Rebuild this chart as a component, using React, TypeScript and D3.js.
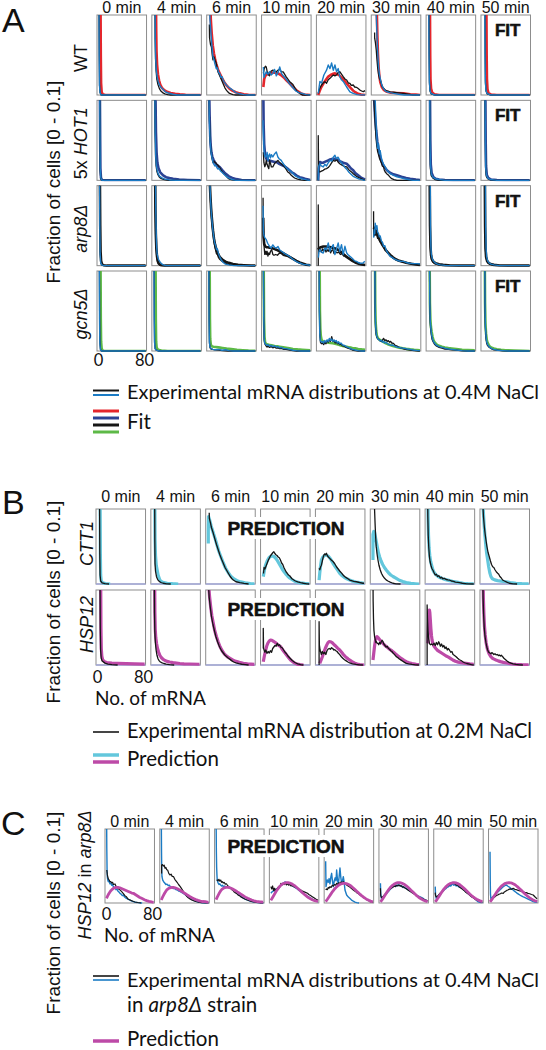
import React from 'react';
import * as d3 from 'd3';

// ---------- labels ----------
const TIMES = ['0 min', '4 min', '6 min', '10 min', '20 min', '30 min', '40 min', '50 min'];
const A_ROWS = ['WT', 'HOT1', 'arp8', 'gcn5'];
const B_ROWS = ['CTT1', 'HSP12'];
const C_ROWS = ['HSP12arp8'];
const X_TICKS = [0, 80];
const Y_TITLE = 'Fraction of cells [0 - 0.1]';

// ---------- data: [mRNA, fraction x1000, ...] per time point ----------
const A_WT_FIT = [
  [3.5,120, 4,50, 4.5,15, 5.5,4, 7,1, 12,0, 82,0],
  [4.5,120, 5,80, 5.5,55, 6.5,38, 8,26, 10,18, 12,13, 15,9, 19,6, 24,4, 30,2.5, 38,1.5, 46,0.8, 56,0.3, 66,0, 82,0],
  [3.5,120, 4.5,95, 6,78, 8,62, 10,52, 12,45, 14,39, 17,32, 20,27, 24,21, 28,16, 32,12, 37,8, 42,5.5, 48,3.5, 55,2, 62,1, 70,0.3, 78,0, 82,0],
  [0.5,10, 2,20, 4,24, 7,26, 11,27, 16,28, 21,28, 26,27, 31,25, 36,22, 41,18, 46,14.6, 52,10, 58,6, 62,4, 66,2, 72,0.5, 82,0],
  [0.5,0, 3,5, 6,10, 10,15, 14,19, 18,23, 22,25, 26,26.5, 30,27, 34,26, 38,24, 42,21, 46,18, 50,14.6, 54,11, 58,8, 61.4,5.4, 65,3.5, 70,1.5, 75,0.5, 82,0],
  [6.8,120, 7.2,100, 8,75, 9,52, 10.1,35, 11.5,24, 13,16, 16,9.6, 19,6.5, 24.6,4, 30,3, 40,2.5, 53.6,2, 65,1, 75,0.5, 82,0],
  [4,120, 4.5,50, 5,20, 6,8, 8,3, 12,1, 20,0, 82,0],
  [6.8,120, 7.3,50, 7.8,20, 8.8,7, 10.5,2.5, 15,0.5, 25,0, 82,0],
];
const A_WT_BLACK = [
  [0.8,120, 1.3,50, 1.8,12, 2.8,3, 4.5,0, 82,0],
  [2.8,120, 3.1,70, 3.8,45, 4.8,30, 6,20, 8,13, 10.5,8, 13,5, 16,3, 20,1.5, 25,0.5, 30,0, 82,0],
  [2,88, 2.3,72, 3,68, 4,63, 5.6,60, 7,50, 8.3,44, 9.5,48, 11,46, 12.5,42, 14,40, 15.5,34, 17,29, 20,24, 23,19, 26,14, 29,9, 31.6,6, 34,4, 37,2, 43,0.5, 48,0, 82,0],
  [0.5,27, 2,33, 4,36, 5.6,35, 8,26, 11.3,24, 14,30, 17,31, 20,30, 23,29, 26,31, 29,32, 32,29, 35,29, 40,23, 46,17, 52,13, 56,8, 60,4, 64,2, 68,0, 82,0],
  [0.6,2, 3,8, 6.4,12.5, 9,15, 12,16.7, 15,14.6, 18,19, 21,20.8, 24,23, 26.7,25, 29.6,24, 32.5,25, 35,28, 38,29.2, 41,26, 44,22.9, 47,20, 50,18.75, 53,15, 55.7,14.6, 58,12, 61.4,12.5, 64,10, 67,9.6, 70,8, 73,6.25, 76,5, 79,4.2, 82,5.4],
  [3.2,78, 3.3,71, 4.5,66, 6.1,56, 7.2,45, 8.4,35, 10,26, 11.9,20, 13.5,18, 15,14, 16,11, 18,9, 21.7,6, 25,5, 30.4,4, 36,3.5, 42,3, 53.6,2, 62,1, 70,0, 82,0],
  [2.2,120, 2.7,50, 3.2,15, 4.2,5, 6,1.5, 12,0, 82,0],
  [4.2,120, 4.7,50, 5.2,15, 6.2,5, 8,1.5, 14,0, 82,0],
];
const A_WT_BLUE = [
  [0.7,120, 1.2,50, 1.7,12, 2.7,3, 4.5,0, 82,0],
  [3,120, 3.3,70, 4,45, 5,32, 6.5,23, 8.4,17, 11,12, 14,9, 17,7, 21,4, 26,2.5, 34,1, 42,0, 82,0],
  [2.5,120, 3,95, 4,85, 5.5,70, 7,57, 8.3,48, 10,44, 12,38, 14,33, 16,34, 18,28, 20,27, 22,22, 24,23, 26,19, 28,16, 31.6,12.5, 35,10, 39,8, 43,6, 48,3, 55,1.5, 62,0.5, 68,0, 82,0],
  [0.5,35, 1.5,22, 3,25, 5.6,29, 8,26, 11.3,29, 14,25, 17,27, 20,32, 23,24, 26,28, 29,35, 32,27, 35,24, 40,20, 46,14, 52,9, 57,5, 62,3, 68,2, 75,0.5, 82,0],
  [0.6,2, 3.5,17, 6.4,15, 10.4,25, 15,31, 18,37.5, 21,33, 23.8,40, 26.7,31, 29.6,37.5, 32.5,29, 35.3,33, 38,23, 41,19, 44,17, 50,10, 55.7,4, 61.4,2, 68,0.5, 82,0],
  [5.8,120, 6.1,100, 7.2,77, 8.4,56, 10.1,35, 11.5,26, 13.5,19, 16,12, 18.8,8, 22,5, 24.6,4, 30,3, 36,2, 45,1, 55,0, 82,0],
  [2,120, 2.5,50, 3,18, 4,6, 6,2, 12,0, 82,0],
  [4,120, 4.5,50, 5,18, 6,6, 8,2, 14,0, 82,0],
];

const A_HOT1_FIT = [
  [2.3,120, 2.9,50, 3.3,15, 4.3,3, 6,0.5, 10,0, 82,0],
  [3.5,120, 4.5,60, 5.6,35, 7,22, 9,15, 12,10, 17,6.25, 22,4, 28,2.8, 34.5,2, 45,1, 60,0.5, 82,0],
  [1.5,120, 2.5,80, 3.5,55, 4.5,42, 5.6,35, 7,30, 9,26, 11.3,23, 14,20, 17,18, 20,16.5, 24,13, 28,10, 31.6,7.5, 36,5, 42,3, 49,1.5, 58,0.5, 70,0, 82,0],
  [0.3,120, 1,70, 2,45, 3.5,32, 5.6,27, 8,25, 11.3,25, 14,24, 17,23.5, 20,23, 23,22.9, 27,21, 31.6,19.5, 37.4,17.5, 43,14.5, 46,12.5, 50,10, 54.8,8, 57.7,6.25, 63.5,4, 69,2.9, 75,1.5, 82,0.5],
  [0.5,0, 1.5,15, 3.5,22.9, 6,22, 9,22, 12,23, 15,24, 18,25, 21,26, 24,26.5, 27,27, 29.6,27, 33,26, 38,24, 44,22, 50,20.8, 55,17, 58,14.5, 61.4,12.5, 65,9, 70,6.25, 75,3.5, 79,2, 82,1],
  [2,120, 2.5,100, 4,80, 6,62, 8,48, 10,39, 13,29, 16,22, 19,18, 24.6,12.5, 30,9.5, 36,7.5, 42,6.25, 50,4.5, 58,3, 65,2, 75,1, 82,0.5],
  [4,120, 4.7,50, 5.5,20, 7,9, 10,4, 14,2, 20,1, 30,0.5, 45,0, 82,0],
  [5,120, 5.6,50, 6.2,18, 7.5,7, 10,3, 15,1, 25,0.3, 40,0, 82,0],
];
const A_HOT1_BLACK = [
  [2,120, 2.5,50, 3,12, 4,2, 6,0, 82,0],
  [2.3,120, 3,60, 3.8,30, 4.8,18, 6.2,11, 8,7, 10.5,4, 14,2, 19,1, 26,0, 82,0],
  [1.3,120, 2.2,75, 3.5,50, 4.5,40, 5.6,33, 7,26, 8.5,22, 10,24, 11.3,23, 13,22, 15,20, 17,19, 20,16, 23,12, 26,9, 29,7, 31.6,5, 34,3, 37,1.5, 42,0.5, 48,0, 82,0],
  [0.5,35, 1.5,22, 3,17, 4.5,20, 5.6,25, 7,20, 8.5,17, 10,14.6, 11.3,25, 13,21, 14.5,16.7, 17,16.7, 20,21, 23,22.9, 25.8,25, 28,23, 31.6,20.8, 34,19, 37.4,16.7, 40,14, 43,10.4, 46,9, 49,6.25, 52,4.5, 54.8,2.9, 60,1.5, 66,0.5, 72,0, 82,0],
  [0.6,0, 0.6,56, 1.2,12.5, 3.5,10.4, 6,11.5, 9.3,12.5, 12,14, 15,14.6, 18,16, 21,18.75, 24,22, 26.7,25, 29.6,24, 32.5,25.8, 35,23, 38,20.8, 42,19, 46,17.5, 50,16.7, 54,13, 58.5,10.4, 62,8, 67,5, 72,3, 75.7,2, 79,1, 82,1],
  [1.4,120, 2.5,95, 4.3,70, 5.8,52, 7.2,41.7, 8.5,36, 10.1,32, 11.5,28, 13,25, 15,22, 16.5,18, 18.8,16.7, 20,13, 21.7,10.4, 24.6,8, 27.5,6.25, 30,4, 33,2, 37,1, 42,0, 82,0],
  [3.4,120, 4,50, 4.8,15, 6.2,6, 9,3, 13,1, 20,0, 82,0],
  [4.5,120, 5,50, 5.5,14, 6.7,5, 9,2, 14,0.5, 25,0, 82,0],
];
const A_HOT1_BLUE = [
  [2,120, 2.6,50, 3,15, 4,3, 6,0, 82,0],
  [2.5,120, 3.2,60, 4,32, 5,20, 6.5,13, 8.5,8, 11,5, 15,3, 20,1.5, 28,0.5, 40,0, 82,0],
  [1.2,120, 2,75, 3.2,50, 4.5,38, 5.6,32, 7,27, 8.5,22, 10,20, 11.5,18, 13,19, 15,16, 17,14, 19,15, 21,12, 24,10, 27,8, 30,6, 33,4, 37,2.5, 42,1, 48,0, 82,0],
  [0,75, 0.5,60, 1.5,40, 2.5,32, 4,29, 5.6,30, 7,35, 8.5,25, 10,31, 11.3,33, 13,28, 14.5,32, 17,29.2, 20,33, 23,35.4, 25.8,29.2, 28,27, 31.6,25, 34,22, 37.4,18.75, 40,16, 43,14, 46,12.5, 50,10, 54.8,6.25, 60,4, 63.5,2.9, 70,1.5, 76,0.5, 82,0],
  [0.5,0, 1.5,18, 3.5,21, 6,18, 9.3,16.7, 12,20, 15,18, 18,22, 21,25, 24,24, 26.7,29, 29.6,31.25, 32,27, 35,29, 38,25, 41,22, 44,19, 47,16, 50,14, 54,10, 58.5,7, 61.4,5, 67,3, 72,1.5, 78,0.5, 82,0],
  [3,120, 4.3,100, 5.5,75, 7.2,50, 8.5,40, 10.1,45.8, 11.5,33, 13,37, 14.5,30, 16,25, 18.8,20, 21.7,16.7, 24.6,13, 27.5,10.4, 31,8, 36,6.25, 42,4.5, 47.7,3.3, 55,2, 62,1, 70,0, 82,0],
  [3.5,120, 4.2,50, 5,18, 6.5,8, 9,4, 13,2, 20,1, 30,0, 82,0],
  [4.5,120, 5.1,50, 5.7,15, 7,6, 9.5,2.5, 14,1, 25,0, 82,0],
];

const A_ARP8_FIT = [
  [2.3,120, 3,50, 3.6,18, 4.5,6, 6,2, 9,0.5, 14,0, 82,0],
  [3,120, 3.6,70, 4.3,40, 5.2,22, 6.3,12, 7.5,6, 9,3, 11,1.5, 14,0.5, 20,0, 82,0],
  [2.3,120, 3,100, 4,85, 5,72, 6.5,58, 8.3,44, 10,34, 12,26, 14.3,20, 17,15, 20,11, 25.7,7, 30,5, 36,3.5, 43,2, 52,1, 62,0.5, 75,0, 82,0],
  [0.3,60, 1,35, 2,27, 4,24, 6,23, 8.5,23, 11.3,22.5, 15,22, 19,21, 23,20, 28.7,18, 34,16, 40,13.5, 46,11, 52,8.5, 58,6, 63.5,4, 70,2.5, 75,1.25, 82,0.5],
  [0.5,20, 2,22, 5,23, 9.3,24, 14,24, 18,23.5, 23,23, 27,22, 32,21, 36,19.5, 40,17, 44,14.5, 48,12, 52,10, 55.7,8, 60,6, 65,4, 70,2.5, 76,1.5, 82,0.8],
  [1,48, 2.5,47, 4.3,45, 7,41, 10,36, 13,31, 16,27, 19.5,23, 23,19, 27,16, 30.4,13.5, 35,10.5, 40,8, 46,6, 53.6,4.5, 60,3.3, 67,2.3, 75,1.5, 82,1],
  [3.5,120, 4.2,50, 5,24, 6,13, 7.5,8, 10,5, 14,3, 20,1.8, 27,1, 40,0.3, 55,0, 82,0],
  [4,120, 4.6,50, 5.3,22, 6.3,11, 8,6, 10.5,3.5, 14,2, 20,1, 30,0.3, 45,0, 82,0],
];
const A_ARP8_BLACK = [
  [2,120, 2.6,50, 3.2,15, 4.2,4, 6,1, 10,0, 82,0],
  [2.8,120, 3.4,70, 4,40, 5,20, 6,10, 7.5,5, 9.5,2, 12,0.5, 16,0, 82,0],
  [2.2,120, 2.9,100, 3.9,82, 5,67, 6.5,52, 8.3,41, 10,30, 12,22, 14.3,15, 16,14, 18,10, 20,8, 23,6, 25.7,5, 30,3, 36,1.5, 43,0.5, 50,0, 82,0],
  [0,85, 0.3,60, 0.7,37, 2,22, 3,14, 4.5,18, 5.6,14, 7,18, 8.5,12, 10,16, 11.3,14, 13,18, 15,20, 17,14, 19,13, 22,14, 25,13, 28.7,15.8, 32,15, 35,13, 40,12, 46,11.6, 52,9, 58,6, 63.5,3.3, 70,2, 75,1.25, 82,0.5],
  [0.6,0, 0.6,76, 1.1,24.2, 2.5,18, 4,20, 6,17, 8,21, 10,18, 12,22, 14,17, 16,20, 18,18, 20,21, 22,16, 24,19, 26,20, 28,15, 30,18, 33,16, 36,17, 39,14, 42,15, 45,12, 48,13, 51,10, 55.7,9, 60,7, 64,5, 68,4, 72,3, 76,2, 82,1],
  [1.4,68, 1.6,36.7, 3,42, 4.3,38, 5.5,44, 7,38, 8.5,34, 10,36, 12,30, 14,31, 16,26, 18,25, 20,22, 22,19, 24.6,18, 27,15, 30.4,12, 33,11, 36,9, 40,7.5, 45,6, 50,5, 55,4, 60,3, 66,2.5, 72,2, 77,1.5, 82,1],
  [3.5,120, 4,50, 4.7,22, 5.6,12, 7,7, 9,4.5, 12,2.5, 16,1.5, 22,0.5, 30,0, 82,0],
  [4,120, 4.5,50, 5.2,20, 6.2,10, 8,5, 10.5,3, 14,1.5, 20,0.5, 30,0, 82,0],
];
const A_ARP8_BLUE = [
  [1.8,120, 2.3,50, 2.8,15, 3.8,4, 5.5,1, 9,0, 82,0],
  [3.5,120, 4.2,70, 5,40, 5.6,25, 6.5,15, 8,10, 9.5,7, 11.3,5, 14,2.5, 17,1, 22,0, 82,0],
  [2.4,120, 3.1,100, 4.1,82, 5.2,68, 6.7,55, 8.5,42, 10,34, 11.5,28, 13,25, 14.5,20, 16,21, 18,15, 20,11, 23,7, 26,4, 30,2, 36,1, 44,0, 82,0],
  [0,75, 0.5,45, 1.5,38, 3,35, 5.6,32.5, 8,28, 11.3,24, 14,22, 17,26, 20,23, 23,22, 26,24, 28.7,20, 32,18, 36,16, 40,14, 46,11.6, 52,8, 58,5, 63.5,3.3, 70,1.5, 75,1.25, 82,0.5],
  [0.8,10, 2,18, 3.5,20, 6,17, 9.3,15.8, 12,22, 15,20, 18,28.3, 21,17.9, 23,22, 26.7,26.25, 29.6,13.75, 32,20, 35.3,28.3, 38,17.9, 41,26.25, 44,13.75, 47,24.2, 50,16, 52,14, 55.7,11.6, 60,9, 64,6, 67,5.4, 70,4, 74,3, 78.6,3.3, 81.5,5.4],
  [1.5,35, 2.5,45, 3.5,40, 4.3,53, 5.5,46, 7.2,50, 8.5,42, 10.1,40, 11.5,36, 13,37, 15,31, 17,29, 19,24, 21,25, 23,20, 26,16, 30.4,11.6, 34,10, 38,8, 43,6.5, 48,5.5, 53.6,5.4, 58,4, 64,3, 70,2.5, 77,2.5, 82,2],
  [4.5,120, 5,50, 5.6,25, 6.5,14, 8,9, 10,6, 13,3.5, 17,2, 22,1, 30,0.3, 40,0, 82,0],
  [5,120, 5.6,50, 6.3,22, 7.3,11, 9,6, 11.5,3.5, 15,2, 20,1, 30,0, 82,0],
];

const A_GCN5_FIT = [
  [3.5,120, 4,40, 4.5,12, 5.5,3, 7,0.5, 10,0, 82,0],
  [3.8,120, 4.3,40, 4.8,12, 5.8,4, 8,1.5, 14,0.5, 25,0, 82,0],
  [2.5,120, 3,40, 3.5,15, 4.5,8, 6,6, 9,5.4, 13,5, 18,4.5, 25,3.8, 32,3, 40,2.3, 50,1.5, 60,1, 70,0.5, 82,0.3],
  [1,120, 1.7,40, 2.5,18, 3.5,11, 5,9, 8,8, 11.3,7.5, 15,7, 20,6.3, 25,5.8, 28.7,5.4, 35,4.6, 40,4, 46,3.3, 52,2.6, 60,2, 68,1.6, 75,1.25, 82,1],
  [3,120, 3.5,50, 4.2,28, 5,19, 6.4,13.75, 8,12.5, 10,11.7, 14,11, 18,10.5, 22,10, 26,9.6, 30,9, 35,8, 40,7, 45,6, 50,5.4, 55,4.5, 60,3.8, 65,3.3, 70,2.6, 76,2, 82,1.5],
  [3.8,120, 4.3,60, 5,36, 6,25, 7.2,19, 9,16, 11,14.5, 14,13, 18,11.5, 22,10, 26,8.5, 30,7.5, 35,6.2, 40,5.2, 46,4.2, 52,3.4, 58,2.7, 65,2, 72,1.5, 82,1],
  [3.5,120, 4,60, 4.8,40, 5.8,30, 7,24, 8.5,18, 10,14, 12,11, 14,9.5, 16,8, 20,6.5, 25,5.4, 30,4.5, 36,3.6, 42,3, 50,2.3, 60,1.5, 70,1.1, 82,0.8],
  [4,120, 4.5,60, 5.2,35, 6.2,22, 7.5,14, 9,10, 11,7.5, 13,5.4, 16,4, 20,3, 25,2.2, 32,1.5, 40,1, 55,0.5, 70,0.2, 82,0],
];
const A_GCN5_BLACK = [
  [1.5,120, 2,40, 2.5,10, 3.5,2, 5,0, 82,0],
  [1.2,120, 1.7,40, 2.2,10, 3.2,3, 5,1, 10,0, 82,0],
  [1.2,120, 1.7,40, 2.2,10, 3.2,4, 5,2.5, 8,2, 12,1.5, 18,1, 25,0.5, 35,0, 82,0],
  [0.5,120, 1.2,40, 2,14, 3,9, 5,6.5, 7,5, 9,6, 11.3,4.5, 14,5.5, 17,4, 20,5, 23,3.5, 26,4, 29,3, 32,3.2, 36,2, 40,2, 46,1, 52,0.5, 58,0, 82,0],
  [2.2,120, 2.7,50, 3.4,20, 4.4,11, 6,9, 8,10, 10,8, 12,11, 14,9, 16,13, 18,11, 20,14, 22,12, 24,17.9, 26,12, 28,13, 30,10, 32,11.5, 34,9, 36,10, 38,8, 40,8.5, 43,6.5, 46,6, 49,4.5, 52,3.5, 56,2.5, 60,1.25, 65,0.5, 70,0, 82,0],
  [3.5,120, 4,55, 4.8,30, 5.8,21, 7.2,17, 9,15, 11,14, 13,13, 15,12, 17,14, 18.8,15.8, 21,13, 23,14, 25,12, 27,13, 29,11, 31,12, 33,10, 36,9.6, 39,7, 42,6, 46,4.5, 50,3.5, 55,2.5, 60,1.8, 65,1.2, 72,0.5, 80,0, 82,0],
  [3.2,120, 3.7,60, 4.5,36, 5.5,26, 6.7,19, 8,14, 10,11, 12,8.5, 14,7, 16,6, 20,4.5, 25,3.5, 30,2.5, 36,2, 42,1.5, 50,1, 60,0.3, 70,0, 82,0],
  [3.8,120, 4.3,55, 5,30, 6,17, 7.2,10, 8.8,7, 11,5, 13,4, 16,2.5, 20,1.5, 26,1, 35,0.3, 45,0, 82,0],
];
const A_GCN5_BLUE = [
  [1.3,120, 1.8,40, 2.3,10, 3.3,2, 5,0, 82,0],
  [1,120, 1.5,40, 2,12, 3,3, 5,1, 10,0, 82,0],
  [1,120, 1.5,40, 2,12, 3,5, 5,3, 8,2, 12,1.5, 18,2, 24,1, 30,1.5, 36,0.5, 44,0, 82,0],
  [0.5,120, 1.2,40, 2,15, 3,9.6, 5,8, 7,7, 9,8, 11.3,6, 14,7, 17,5.5, 20,6.5, 23,5, 26,5.5, 29,4, 32,4.5, 36,3, 40,3, 46,2, 52,1, 58,0.5, 66,0, 82,0],
  [2,120, 2.5,50, 3.2,22, 4.2,13, 6,11, 8,12, 10,10, 12,13, 14,11, 16,14, 18,12, 20,15.8, 22,13, 24,15, 26,12, 28,14, 30,11.7, 32,13, 34,10, 36,11.5, 38,9, 40,10, 43,7.5, 46,7, 49,5.4, 52,4.5, 56,3.3, 60,2, 65,1.25, 70,0.5, 76,0, 82,0],
  [3.5,120, 4,60, 4.8,34, 5.8,23, 7.2,17.9, 9,15, 11,14, 13,12.5, 15,13.5, 17,11, 19,12, 21,10, 23,11, 26,9, 29,8, 32,7, 35,7.5, 38,6, 42,5, 46,4.5, 50,3.8, 55,3.3, 60,2.5, 65,2, 70,1.3, 76,0.8, 82,0.5],
  [3.3,120, 3.8,60, 4.6,38, 5.6,28, 6.8,21, 8.2,16, 10,12, 12,10, 14,8, 16,7, 20,5.5, 25,4.5, 30,3.5, 36,2.5, 42,2, 50,1.25, 60,0.5, 70,0, 82,0],
  [4,120, 4.5,55, 5.2,30, 6.2,18, 7.5,11, 9,8, 11,6, 13,4.5, 16,3, 20,2, 26,1, 35,0.5, 45,0, 82,0],
];

const B_CTT1_PRED = [
  [4.5,120, 5,40, 5.5,12, 6.5,4, 9,1.5, 14,0.5, 22,0],
  [4.2,120, 4.7,60, 5.5,38, 6.8,25, 8.4,18.7, 10,12, 13,5.3, 16,3, 20,1.8, 26,1, 35,0.4, 45,0],
  [1.9,54, 1.9,72, 2.3,90, 4,86, 7,77, 10.6,68, 14,60, 17,52, 20,44, 24,36, 28,28, 32,21, 36.7,15, 41,10.5, 46,7, 52,4.5, 58,2.8, 66,1.5, 75,0.6, 82,0.2],
  [2.1,9.8, 4,18, 6,25, 9,31, 12,35, 15,37, 17.7,37.3, 20,37, 23,35, 26,32, 29,28, 32,24, 35,20, 38,16.5, 41,13.5, 44,11, 48,8, 52,6, 56,4, 60,2.8, 66,1.6, 74,0.8, 82,0.3],
  [3.8,5.3, 5,15, 6.5,25, 7.8,32, 10,35.5, 13,38, 16.5,38.7, 20,37, 24,33, 28,27.6, 32,23, 36,18.5, 39.7,14.3, 44,11, 48,8.5, 52,7, 57,5.3, 62,3.8, 68,2.6, 74.4,1.8, 82,1],
  [2.1,32, 2.1,66, 3.5,70, 4.9,69, 7,60, 9.5,50, 11.5,42, 13.6,36.4, 16,31, 19,26, 22,22, 25.2,18.7, 29,15, 33,12, 37,10, 42.6,7.6, 48,5, 54,3.2, 60,1.8, 68,0.8, 76,0.3, 82,0],
  [2.2,120, 2.6,90, 3.3,65, 4.3,48, 5.5,38, 7,30, 9,24, 10.8,19, 13,15.5, 16,12.5, 20,10, 25,8, 30,6.5, 35,5.5, 40,4.5, 45,3.7, 50,3, 57,1.8, 64,1, 72,0.5, 82,0.2],
  [2.6,120, 3.1,98.7, 4.5,80, 6,65, 7.5,52, 9,41, 10.8,32, 12.5,23, 14.5,15, 16.5,9.8, 19,7, 23,5.5, 28,4.5, 34,3.8, 42.6,3, 50,2, 60,1, 70,0.5, 82,0.2],
];
const B_CTT1_BLACK = [
  [3.5,120, 4,40, 4.5,12, 5.5,4, 8,1.5, 13,0.5, 20,0],
  [4,120, 4.3,60, 4.6,27.5, 5.5,17, 7.2,9.8, 9.5,5.5, 12,3.5, 15,2, 18.8,1, 25,0.3, 32,0],
  [3.5,95, 3.7,87.6, 5.5,82, 7.5,75, 10.6,67.6, 13,61, 16,53, 19.3,45.3, 22,39, 25,33, 28,27.6, 31,22, 34,18, 36.7,14.3, 40,10, 43,7, 45.4,5.3, 50,3, 57,1.8, 64,0.8, 72,0],
  [2.5,14, 3.5,22, 5,20, 7,24, 9,28, 11,32, 13,35, 15,38, 17,40, 19,42, 20.5,43, 22,41, 24,39, 26,38, 28,36, 30,35, 32,32, 34,28, 36,26, 38,22, 40,19, 42,16, 43.8,14.3, 46,12, 48,11, 50,9, 52,7, 55.3,5.3, 58,4, 62,2.8, 67,1.8, 72,1, 78,0.3, 82,0],
  [3.8,21, 5,19, 6.5,23, 7.8,25, 9.5,31, 11,36, 12.5,39, 13.6,40, 15,39, 16.5,41, 18,38, 20,36, 22.3,34.2, 25,32, 28,30, 31,27, 34,23, 37,20, 40,17, 43,14.5, 45.6,12, 48,10, 51,8.5, 54,7, 57,5.3, 60,4.5, 64,3.5, 68.7,3, 74,2, 80,1, 82,1],
  [4.5,120, 4.9,98.7, 5.8,80, 6.8,62, 7.8,49.8, 9.2,40, 10.8,32, 12.5,25, 14.8,18.7, 17,14, 19.5,10.5, 22.3,7.6, 25,5.5, 28,4, 32,2.5, 36.8,1, 42,0.3, 50,0],
  [1.8,120, 2.1,90, 2.8,65, 3.8,48, 4.9,36.4, 6,30, 7.5,25, 9,21, 10.8,18.7, 13,15, 15,12, 17,13, 19,10, 21,11, 22.3,9.8, 24,8, 26,9, 28,7, 31,7.5, 34,6, 37,5.5, 39.7,5.3, 43,4, 47,3.5, 50,2.5, 54,2.2, 57,1.8, 62,1, 70,0.3, 82,0],
  [1.8,120, 2.1,110, 3.5,90, 5,76, 6.5,66, 7.8,58.7, 9.5,50, 11.5,42, 13.6,36.4, 15.5,31, 17.5,26, 19.5,23, 21.5,22, 23.5,19, 26,16, 28.2,14.3, 30,13, 32,10, 34.5,8, 36.9,5.3, 40,4, 44,2.5, 48.4,1, 55,0.3, 62,0],
];
const B_HSP12_PRED = [
  [5.5,120, 6,50, 6.6,22, 7.5,12, 9,7, 12,4.5, 16,3.3, 25,2.6, 35,2.2, 50,1.8, 65,1.5, 82,1.2],
  [4,120, 4.4,70, 5,48, 6,36, 7.5,28, 9,22, 11,17, 13,13, 15.5,10, 18.8,7.5, 22,6, 26,4.8, 30,4, 36,3.2, 42,2.6, 47.8,2, 55,1.6, 65,1.3, 82,1],
  [1.9,120, 2.5,108, 4,92, 6,78, 8,66, 10.6,55.6, 13,46, 16,38, 19,31, 22.3,24.4, 26,19, 30,14.5, 35,11, 39.7,8.9, 45,6.5, 50,4.8, 56,3.5, 62.8,2.2, 70,1.4, 82,0.8],
  [2.1,4.4, 4,12, 6,19, 8,25, 10,29, 12.5,32, 14.8,33.3, 17,33, 20,31.5, 23,30, 26,28, 29,26, 32.2,24.4, 36,20, 40,16, 44,12, 47,9, 49.6,6.7, 53,4.5, 57,2.5, 61,1.2, 66,0.5, 72,0],
  [4.9,2.2, 7,6, 9.5,11, 12,17, 14.5,22, 17,26.5, 19,29.5, 21.2,31.1, 24,31, 27,29.5, 30,27, 33,25, 36,22.5, 39.7,20, 43,17, 46,14, 49,11.5, 52,9.5, 54.5,8, 57,6.7, 61,4.5, 65,2.8, 70,1.3, 74.4,0.5, 82,0],
  [2.1,6.7, 3.5,16, 5,26, 6.5,33, 8,37, 9,37.8, 10.5,37, 12.5,35, 15,32.5, 17.5,30.5, 19.5,28.9, 23,26, 27,23.5, 31,21, 34,19.5, 36.9,17.8, 41,15, 45,12.5, 49,10, 53,8, 56,6.3, 60,4.4, 65,3, 70,2, 77.4,1, 82,0.6],
  [2.1,28.9, 2.8,45, 3.5,60, 4.2,70, 4.9,73.3, 5.6,70, 6.5,60, 7.5,48, 8.5,39, 9.5,33, 10.8,28.9, 13,25, 16,22, 19,19.5, 22.3,17.8, 26,16, 30,14, 34,12, 38,10.5, 42,8.5, 45.6,6.7, 50,5, 55,3.8, 60,3, 68.7,2.2, 75,1.5, 82,1],
  [2.8,120, 3.3,90, 4.2,68, 5.2,52, 6.5,40, 8,30, 9.5,24, 10.8,20, 13,15.5, 16,11.5, 19,9, 22,7.8, 25.2,6.7, 29,5.5, 33,4.5, 38,3.5, 44,2.6, 50,1.8, 54.2,1.3, 60,0.8, 70,0.4, 82,0.2],
];
const B_HSP12_BLACK = [
  [4.3,120, 4.8,50, 5.4,20, 6.5,9, 8,5.5, 10,4.4, 13,2.5, 18,1.3, 25,0.5, 35,0],
  [3.3,120, 3.7,70, 4.3,45, 5.2,30, 6.5,20, 8,13, 10,8, 12,5.5, 14,4, 17,2.8, 20,2, 24,1.2, 30,0.5, 38,0],
  [1.7,120, 2.3,105, 3.5,90, 5.5,76, 7.5,64, 10,54, 12.5,46, 15,38, 18,31, 20.5,26, 22.3,23, 25,19, 28,16, 31,13, 34,11, 37,9, 39.7,7.5, 43,5.5, 46,4, 50,2.8, 55,1.8, 60,1, 66,0.5, 72,0],
  [2.1,22, 2.1,48.9, 2.6,22.2, 3.5,20, 4.9,17, 6.5,20, 8.5,15.6, 10.5,18, 12.5,16, 14.5,19, 16.5,17, 18.5,22, 20.5,24, 22.5,26, 24.5,25, 26.4,28.9, 28.5,26, 30.5,27, 32.5,24, 35,23, 37.5,20, 40,17, 42.5,15, 45,12, 47.5,10, 50,8, 52.5,6, 55.3,4.4, 58,3, 62,1.5, 67,0.5, 72,0],
  [3.8,0, 3.8,57.8, 4.3,26.7, 5.5,20, 7.8,14, 9.5,18, 11.5,15, 13.5,17, 15.5,14, 17.5,19, 19.5,21.3, 21.5,22, 23.5,21, 25.5,23, 27.5,22, 29.5,20, 31,20.4, 33,19, 35,18, 37,16, 39.7,13.8, 42.5,11, 45,9, 48,7, 51,5.5, 54,4, 57,2.7, 62,1.5, 68,0.8, 74,0.3, 80,0],
  [2.1,120, 2.4,85, 3,62, 3.8,46, 4.9,37.8, 6,34, 7,30, 8,31, 9.5,29, 10.8,28.9, 12,27, 13.5,30, 15,28, 16.5,31, 18,33, 19.5,31.1, 21,28, 23,26, 25,24, 27,25, 29,22, 31,21, 33,19, 35,18, 37,16, 39,14.5, 42.6,11.1, 45,10, 48,8, 51,6.5, 54,5, 57,3.5, 60,2.2, 64,1.5, 70,0.8, 76,0.3, 82,0],
  [0.9,0, 0.9,80, 1.5,62, 2.5,45, 3.5,35, 4.9,28.9, 6.5,27, 8.5,28, 10.8,26.7, 13,29, 15,26, 17,30, 19,27, 21,31, 22.3,28.9, 24,25, 26,28, 28,24, 30,26, 32,22, 33.9,24, 36,20, 37.5,22, 39.7,20, 42,17, 44,18, 46,14, 48,13, 51.3,11.1, 54,9, 57,7, 60,6, 62.8,4.4, 66,3, 70,2, 74.4,1.3, 78,0.5, 82,0],
  [2.3,120, 2.8,90, 3.7,68, 4.8,50, 6.2,38, 7.8,30, 9.3,24, 10.8,20, 12.5,17, 14.5,16, 16.5,15, 18,16.5, 19.5,15.6, 21.5,14, 23.5,15, 25.5,13.5, 27.5,14, 29.5,12.5, 31,13.3, 33,12, 34.5,13, 36.9,11.1, 39,9, 42,7, 45,5, 48,3.5, 51,2.5, 55,1.5, 60,0.8, 66,0.3, 72,0],
];

const C_BLUE = [
  [0.2,120, 0.5,75, 1,45, 1.4,35.6, 2.2,31, 3.2,28.8, 4.5,30, 6,26, 7.5,27, 9,24, 10.5,25, 11.9,22.1, 13.5,20, 15,21, 16.5,18, 18,19, 20,16, 21.5,15, 23.5,13.1, 25.5,12, 27.5,10, 29.5,10.5, 31.5,8, 33,7, 35,6.3, 38,5, 41,4, 44,2.5, 46.7,1.8, 50,1, 55,0.5, 62,0],
  [0,120, 0.4,70, 0.8,45, 1.2,35.6, 2.5,31, 4.1,28.8, 6,27, 8,25, 10,25.5, 12,23.5, 14,24, 15.7,22.1, 18,21, 20.5,19.5, 23,20, 25.5,18, 28,17.5, 30.5,16, 33,15.3, 36,14, 39,12.5, 42,11, 45,9, 48,7.5, 50.4,6.3, 54,4.5, 58,3, 62,1.8, 66,1, 72,0.4, 82,0],
  [0,120, 0.5,70, 1,48, 1.5,38, 2,31.1, 3.5,27, 5,25, 6.5,26, 7.8,24.3, 9.5,23, 11,24, 13,22, 15,23, 17,21, 19.5,22.1, 22,20.5, 24.5,21, 27,19, 29,18.5, 31,17.6, 34,15.5, 37,14, 40,11.5, 42.6,9.5, 45,8, 48,6.5, 51,5, 54.2,4.1, 58,3, 62,2, 66,1.2, 72,0.5, 82,0],
  [0,13.1, 2,15, 4,16, 6,17.5, 8,18.5, 10,19, 11.6,19.8, 13.5,21, 15.5,22.5, 17.5,24.5, 19.5,26, 21.5,27, 23.2,27.5, 25,28.5, 27,26.5, 29,27.5, 31,25.5, 33,26, 34.8,24.3, 37,23.5, 40,22, 43,20.5, 46,19, 49,17, 52.2,15.3, 55,13.5, 58,12, 61,10.5, 64,9, 67,7.5, 69.6,6.3, 73,4.5, 77,3, 81.2,1.8, 82,1.7],
  [0,56.3, 0.6,22.1, 2.9,31.1, 4.5,28, 6,33, 7.5,26, 9,35, 10.4,40.1, 11.8,30, 13.3,22.1, 15,30, 16.5,34, 18,30, 19.1,44.6, 20.5,32, 22,24.3, 23.5,36, 24.9,47.3, 26.3,35, 27.8,26.6, 29.3,30, 30.7,35.6, 32.2,28, 33.6,17.6, 36.5,10.8, 39.5,8, 42.3,6, 45,4, 48.1,2.5, 51,1.2, 53.9,0.5, 58,0],
  [0,26.6, 0.5,12, 1.7,6.3, 3.5,7, 5.5,8.5, 7.5,10, 10.4,12.5, 12.5,14.5, 14.5,16, 16.5,18, 18.5,19.5, 20.5,21, 22,22.1, 24,22.5, 26,23.5, 28,23, 30,24.5, 32,23.5, 33.6,24.3, 35.5,22.5, 37.5,23, 39.5,21, 41.5,21.5, 43.5,20, 45.2,19.8, 48,18, 51,16.5, 54,15, 57,13.5, 60,12, 62.6,10.8, 65,9.5, 68,8.5, 71,7.5, 74.2,6.3, 77,4.5, 80,3.2, 82,2.5],
  [0,22.1, 0.5,12, 1.7,6.3, 3.5,7.5, 5.5,9, 7.5,11, 9.5,12.5, 11.5,14.5, 13.5,16, 15.5,17.5, 17.5,19, 19.1,19.8, 21,21.5, 23,22, 25,23.5, 27,23, 29,25, 30.7,25.7, 32.5,24, 34.5,25, 36.5,23, 38.5,24, 40.5,22, 42.3,22.1, 44.5,21, 47,19.5, 49.5,18, 51.5,16.5, 53.9,15.3, 56,13.5, 58.5,12, 61,10.5, 63,9, 65.5,7.7, 68,6, 70.5,4.5, 72.5,3, 74.2,1.8, 77,1, 82,0.5],
  [0,69.4, 0.4,30, 0.8,12, 1.4,6.3, 3,7, 5,8.5, 7,10, 9,11.5, 11,13, 13,14.5, 15,16, 17,17.6, 19,19, 21,20.5, 23,22, 25,23, 27,24, 28.7,24.3, 30.5,23, 32.5,22, 34.5,21, 36.5,19.5, 38.5,18.5, 40.3,17.6, 42.5,16, 45,14.5, 47.5,13, 49.5,12, 51.8,10.8, 54.5,9.5, 57,8.5, 60,7.5, 63.5,6.3, 67,5, 71,3.5, 75.1,1.8, 78,1.2, 82,0.8],
];
const C_BLACK = [
  [0.5,44.6, 1.5,38, 3,33, 4.5,31, 6.1,28.8, 7.5,29, 9,27, 10.5,28, 12,25, 14.8,25.7, 17,22, 19,21, 21,19, 23,18, 26.4,15.3, 29,13, 32,10, 35,8, 38,5, 41,4, 44,3, 47,2, 49.6,1.4, 54,0.7, 60,0],
  [0.6,40, 0.6,51.4, 2,52, 3.5,50, 5,51, 6.5,47, 8,48, 9.5,45, 11,44.6, 13,40, 15,38, 17,39, 19,36, 21.4,35.6, 23.5,32, 25.5,30, 27.5,28, 30,25, 33,22.1, 35.5,19, 38,16, 40.5,13, 42.5,11, 44.7,8.6, 47,7, 50,5.5, 53,4, 56.2,3.2, 60,2, 65,1, 70,0.4, 82,0],
  [1.5,30, 2,31.1, 3.5,30, 4.9,32, 6.5,29.5, 8,31, 9.5,28, 10.8,28.8, 12.5,27, 14,28, 16,25.5, 18,26, 19.5,24.3, 21.5,22.5, 23.5,21, 25.5,20, 27.5,18, 29.5,17, 31,15.3, 33,14, 35.5,13, 38,11, 40.5,10, 42.6,8.6, 45,7.5, 48,6, 51,5, 54.2,4.1, 58,3, 62,2, 65.7,1.4, 70,0.8, 76,0.3, 82,0],
  [0,22.1, 1.5,19, 3,23, 4.5,17, 6,20, 7.5,15.3, 9,19, 10.5,17, 12,21, 13.5,19, 15,23, 16.5,22, 17.4,26.6, 19,24, 21,26, 23,25, 25,27, 27,24.5, 29,26, 31,24, 33,25.5, 35,23, 37,24, 39,22, 40.6,22.1, 43,21, 46,20, 49,18.5, 52,17.5, 55,16, 58,15, 61,14, 63.8,13.1, 66,11.5, 69,10, 72,8.5, 75,7, 78,5.5, 81.2,4.1, 82,4],
  [0,17.6, 1.5,19, 3,18, 4.5,21, 6,20, 7.5,22.1, 9.5,21, 11.5,24, 13.5,23, 15.5,25, 17.5,24, 19.1,26.6, 21,25, 23,27.5, 25,26.5, 27,28.5, 29,27.5, 30.7,28.8, 32.5,27, 34.5,25.5, 36.5,24.3, 39,23, 42,21.5, 45,19.5, 48.1,17.6, 51,16, 54,14, 57,12.5, 59.7,10.8, 63,9, 66,7.5, 69,6, 72,4.5, 75,3, 77,1.8, 80,1.5, 82,1.2],
  [0,20, 0.5,10, 1.7,7.5, 3.5,8, 5.5,9.5, 7.5,11.5, 10,13.5, 12,15.5, 14,17, 16,18.5, 18,19.5, 20,20.5, 22,21.5, 24,23, 26,22, 28,24, 30,23, 32,24.5, 34,23, 36,23.5, 38,21.5, 40,22, 42,20.5, 44,19.5, 46,18.5, 49,17, 52,15.5, 55,14, 58,12.5, 61,11, 64,9.5, 67,8.3, 70,7, 73,6, 76,4.8, 79,3.8, 82,3],
  [0,14, 0.5,10, 1.7,8, 3.5,9, 5.5,10.5, 7.5,12.5, 9.5,14, 11.5,15.5, 13.5,17.5, 15.5,19, 17.5,20.5, 19.5,21.5, 21.5,23, 23.5,24, 25.5,25, 27.5,26, 29.5,27.5, 31,28, 33,26.5, 35,25.5, 37,24, 39,24.5, 41,22.5, 43,21, 45,20, 47.5,18.5, 50,17, 52.5,15, 55,13.5, 57.5,12, 60,10.5, 63,8.5, 66,7, 69,5.5, 72,4, 75,3, 78,2, 82,1.2],
  [0,4, 2,4.1, 4,5.5, 6,7, 8,8, 10,9.5, 12,10.5, 14,11, 16,12, 18,12.5, 20,13.5, 23,13.1, 25,15, 27,16, 29,17, 31,17.5, 33,18.5, 35,19, 37,18.5, 40.3,19.8, 43,18.5, 46,18, 49,17, 52,16.5, 55,15.5, 57.7,15.3, 60,14.5, 63,14, 66,13, 69,12.5, 72,11.5, 75.1,10.8, 78,8.5, 80.9,6.3, 82,6],
];
const C_PRED = [
  [0,6.3, 2,9.5, 4,12.5, 6,15, 8,17, 10,18.5, 12.5,20, 15,20.8, 17.7,21.2, 20,21, 23,20.5, 26,19.5, 29,18.5, 32,17.5, 35,16.5, 38,15.5, 41,14.5, 44,13.5, 46.7,13.1, 50,11.5, 54,9.5, 58,7.5, 62,6, 66,4.5, 69.9,3.2, 74,2.2, 78.6,1.4, 82,1],
  [0,4.1, 2,7.5, 4,10.5, 6,13.5, 8,16, 10,18, 12.5,19.5, 15,20.5, 18.5,21.2, 21,21, 24,20.5, 27,19.5, 30,18.5, 33,17, 36,15.5, 39,14, 42,12.5, 45,11, 48,9.5, 51,8, 54,6.8, 57,5.6, 60,4.6, 64,3.5, 68,2.6, 72,2, 76.5,1.8, 82,1],
  [0,4.5, 2,8, 4,11, 6,14, 8,16.5, 10,18.3, 12.5,19.8, 15,20.7, 17.5,21.1, 19.5,21.2, 22,21, 25,20.3, 28,19.3, 31,18, 34,16.6, 37,15, 40,13.5, 43,12, 46,10.5, 49,9, 52,7.6, 55,6.4, 58,5.3, 62,4, 66,3, 70,2.3, 75,1.7, 82,1.2],
  [0,3.5, 3,7.5, 6,11.5, 9,15.5, 12,19, 15,22, 18,24.5, 21,26, 24,27, 27,27.5, 30,27.5, 33,27, 36,26, 39,24.5, 42,23, 45,21, 48,19, 51,16.8, 54,14.6, 57,12.5, 60,10.5, 63,8.7, 66,7, 69,5.6, 72,4.4, 75,3.5, 78,2.8, 82,2.2],
  [0,1.8, 3,5, 6,8.5, 9,12, 12,15.5, 15,18.5, 18,21, 21,23, 24,24.8, 27,25.9, 30,26.5, 33,26.6, 36,26.2, 39,25.3, 42,24, 45,22.3, 48,20.3, 51,18.2, 54,16, 57,13.8, 60,11.6, 63,9.6, 66,7.8, 69,6.2, 72,4.8, 75,3.6, 78,2.6, 82,1.6],
  [0,1.5, 3,4.5, 6,8, 9,11.8, 12,15.5, 15,18.8, 18,21.6, 21,23.9, 24,25.6, 27,26.8, 30,27.4, 33,27.5, 36,27.1, 39,26.2, 42,24.9, 45,23.2, 48,21.2, 51,19, 54,16.7, 57,14.4, 60,12.1, 63,10, 66,8.1, 69,6.4, 72,5, 75,3.8, 78,2.8, 82,1.8],
  [0,1.5, 3,4.6, 6,8.1, 9,11.8, 12,15.4, 15,18.7, 18,21.5, 21,23.8, 24,25.5, 27,26.7, 30,27.3, 33,27.5, 36,27.1, 39,26.3, 42,25, 45,23.3, 48,21.3, 51,19.1, 54,16.8, 57,14.5, 60,12.2, 63,10.1, 66,8.2, 69,6.5, 72,5.1, 75,3.9, 78,2.9, 82,1.9],
  [0,1.5, 3,4.5, 6,8, 9,11.6, 12,15.2, 15,18.4, 18,21.2, 21,23.5, 24,25.3, 27,26.6, 30,27.3, 33,27.5, 36,27.3, 39,26.5, 42,25.3, 45,23.7, 48,21.8, 51,19.7, 54,17.5, 57,15.2, 60,12.9, 63,10.8, 66,8.8, 69,7, 72,5.5, 75,4.2, 78,3.1, 82,2],
];

// ---------- style ----------
const HELV = "'Liberation Sans', Arial, Helvetica, sans-serif";
const MYR = "Lato, 'Open Sans', sans-serif";
const LEG = 20.5;
const COL = {
  black: '#161616', blue: '#1b7bc4', red: '#e4262c', navy: '#2c4394', green: '#5db947',
  cyan: '#63c7dc', magenta: '#bd4aa7', box: '#8d8d8d', lav: '#a5aadb',
};

type S = { d: number[][]; c: string; w: number };

function pairs(a: number[]): [number, number][] {
  const out: [number, number][] = [];
  for (let i = 0; i < a.length; i += 2) out.push([a[i], a[i + 1]]);
  return out;
}

function Cells(props: {
  id: string; xb: d3.ScaleBand<string>; yb: d3.ScaleBand<string>; rows: string[];
  series: S[][]; bottom?: string;
}) {
  const { id, xb, yb, rows, series, bottom } = props;
  const bw = xb.bandwidth(), bh = yb.bandwidth();
  return (
    <g>
      {rows.map((rk, ri) => TIMES.map((t, ci) => {
        const left = xb(t)!, top = yb(rk)!;
        const x = d3.scaleLinear().domain([0, 80]).range([left + 1.5, left + 47.5]);
        const y = d3.scaleLinear().domain([0, 100]).range([top + bh, top]);
        const line = d3.line<[number, number]>().x(d => x(d[0])).y(d => y(d[1]));
        const cid = `${id}-${ri}-${ci}`;
        return (
          <g key={cid}>
            <clipPath id={cid}><rect x={left} y={top} width={bw} height={bh + 1} /></clipPath>
            <rect x={left} y={top} width={bw} height={bh} fill="#fff" stroke={COL.box} strokeWidth={1} />
            {bottom && <line x1={left} x2={left + bw} y1={top + bh} y2={top + bh} stroke={bottom} strokeWidth={1.3} />}
            <g clipPath={`url(#${cid})`}>
              {series[ri].map((s, si) => (
                <path key={si} d={line(pairs(s.d[ci])) || ''} fill="none" stroke={s.c}
                  strokeWidth={s.w} strokeLinejoin="round" strokeLinecap="butt" />
              ))}
            </g>
          </g>
        );
      }))}
    </g>
  );
}

function Headers({ xb, y }: { xb: d3.ScaleBand<string>; y: number }) {
  return (
    <g fontFamily={HELV} fontSize={16} textAnchor="middle" fill="#111">
      {TIMES.map(t => <text key={t} x={xb(t)! + xb.bandwidth() / 2} y={y}>{t}</text>)}
    </g>
  );
}

function VText({ x, y, size, children, family = HELV }: any) {
  return (
    <text transform={`translate(${x},${y}) rotate(-90)`} textAnchor="middle"
      fontFamily={family} fontSize={size} fill="#111">{children}</text>
  );
}

function Ticks({ xb, y }: { xb: d3.ScaleBand<string>; y: number }) {
  const left = xb(TIMES[0])!;
  const x = d3.scaleLinear().domain([0, 80]).range([left + 1.5, left + 47.5]);
  return (
    <g fontFamily={MYR} fontSize={16.5} textAnchor="middle" fill="#111">
      {X_TICKS.map(v => <text key={v} x={x(v)} y={y}>{v}</text>)}
    </g>
  );
}

function Heavy({ x, y, size, children }: any) {
  return (
    <text x={x} y={y} textAnchor="middle" fontFamily={HELV} fontWeight="bold" fontSize={size}
      fill="#111" stroke="#111" strokeWidth={0.55} paintOrder="stroke">{children}</text>
  );
}

function LegText({ x, y, len, size = LEG, children }: any) {
  return (
    <text x={x} y={y} fontFamily={MYR} fontSize={size} fill="#111"
      {...(len ? { textLength: len, lengthAdjust: 'spacingAndGlyphs' } : {})}>{children}</text>
  );
}

export default function App() {
  const xa = d3.scaleBand<string>().domain(TIMES).range([97, 530.5]).paddingInner(0.097);
  const ya = d3.scaleBand<string>().domain(A_ROWS).range([15, 351]).paddingInner(0.0625);
  const xbB = d3.scaleBand<string>().domain(TIMES).range([96, 529.5]).paddingInner(0.097);
  const ybB = d3.scaleBand<string>().domain(B_ROWS).range([509, 665]).paddingInner(0.074);
  const xc = d3.scaleBand<string>().domain(TIMES).range([105, 538]).paddingInner(0.097);
  const yc = d3.scaleBand<string>().domain(C_ROWS).range([829, 903]);

  const fitW = 2.6, expK = 1.3, expB = 1.4;
  const aSeries: S[][] = [
    [{ d: A_WT_FIT, c: COL.red, w: fitW }, { d: A_WT_BLACK, c: COL.black, w: expK }, { d: A_WT_BLUE, c: COL.blue, w: expB }],
    [{ d: A_HOT1_FIT, c: COL.navy, w: fitW }, { d: A_HOT1_BLACK, c: COL.black, w: expK }, { d: A_HOT1_BLUE, c: COL.blue, w: expB }],
    [{ d: A_ARP8_FIT, c: COL.black, w: fitW }, { d: A_ARP8_BLACK, c: COL.black, w: expK }, { d: A_ARP8_BLUE, c: COL.blue, w: expB }],
    [{ d: A_GCN5_FIT, c: COL.green, w: fitW }, { d: A_GCN5_BLACK, c: COL.black, w: expK }, { d: A_GCN5_BLUE, c: COL.blue, w: expB }],
  ];
  const bSeries: S[][] = [
    [{ d: B_CTT1_PRED, c: COL.cyan, w: 3.2 }, { d: B_CTT1_BLACK, c: COL.black, w: 1.3 }],
    [{ d: B_HSP12_PRED, c: COL.magenta, w: 3.2 }, { d: B_HSP12_BLACK, c: COL.black, w: 1.3 }],
  ];
  const cSeries: S[][] = [
    [{ d: C_BLUE, c: COL.blue, w: 1.4 }, { d: C_BLACK, c: COL.black, w: 1.2 }, { d: C_PRED, c: COL.magenta, w: 2.8 }],
  ];

  const aLabels: [string, boolean][][] = [
    [['WT', false]], [['5x ', false], ['HOT1', true]], [['arp8Δ', true]], [['gcn5Δ', true]],
  ];
  const bLabels = ['CTT1', 'HSP12'];
  const lastA = xa(TIMES[7])! + xa.bandwidth() / 2 + 2;
  const predX = 286;

  const legendLine = (x1: number, y: number, c: string, w: number, k: string) =>
    <line key={k} x1={x1} x2={x1 + 26} y1={y} y2={y} stroke={c} strokeWidth={w} />;

  return (
    <svg width={546} height={1050} style={{ position: 'absolute', left: 0, top: 0, background: '#fff' }}
      xmlns="http://www.w3.org/2000/svg">
      <rect x={0} y={0} width={546} height={1050} fill="#fff" />
      <g fontFamily={HELV} fontSize={34} fill="#111">
        <text x={2} y={32}>A</text>
        <text x={2} y={514}>B</text>
        <text x={1} y={835}>C</text>
      </g>

      {/* ---------- A ---------- */}
      <Headers xb={xa} y={13} />
      <Cells id="a" xb={xa} yb={ya} rows={A_ROWS} series={aSeries} />
      {A_ROWS.map((r, i) => (
        <VText key={r} x={87} y={ya(r)! + ya.bandwidth() / 2 + 3} size={18}>
          {aLabels[i].map(([s, it], j) => <tspan key={j} fontStyle={it ? 'italic' : 'normal'}>{s}</tspan>)}
        </VText>
      ))}
      {A_ROWS.map(r => <Heavy key={r} x={lastA} y={ya(r)! + 21} size={17}>FIT</Heavy>)}
      <VText x={60} y={182} size={19}>{Y_TITLE}</VText>
      <Ticks xb={xa} y={366} />
      {legendLine(93, 390.5, COL.black, 2, 'a1')}
      {legendLine(93, 395, COL.blue, 2, 'a2')}
      <LegText x={127} y={399} len={412} size={19.5}>Experimental mRNA distributions at 0.4M NaCl</LegText>
      {[COL.red, COL.navy, COL.black, COL.green].map((c, i) => legendLine(93, 411 + i * 7, c, 3, 'f' + i))}
      <LegText x={127} y={429}>Fit</LegText>

      {/* ---------- B ---------- */}
      <Headers xb={xbB} y={502} />
      <Cells id="b" xb={xbB} yb={ybB} rows={B_ROWS} series={bSeries} bottom={COL.lav} />
      {B_ROWS.map((r, i) => (
        <VText key={r} x={93} y={ybB(r)! + ybB.bandwidth() / 2 - 3} size={18}>
          <tspan fontStyle="italic">{bLabels[i]}</tspan>
        </VText>
      ))}
      {B_ROWS.map(r => (
        <g key={r}>
          <rect x={predX - 63} y={ybB(r)! + 8} width={126} height={22} fill="#fff" />
          <Heavy x={predX} y={ybB(r)! + 26} size={19}>PREDICTION</Heavy>
        </g>
      ))}
      <VText x={60} y={602} size={19}>{Y_TITLE}</VText>
      <Ticks xb={xbB} y={683} />
      <text x={95} y={705} fontFamily={MYR} fontSize={19} fill="#111">No. of mRNA</text>
      {legendLine(93, 732, COL.black, 1.6, 'b1')}
      <LegText x={127} y={738} len={405}>Experimental mRNA distribution at 0.2M NaCl</LegText>
      {legendLine(93, 755, COL.cyan, 3.5, 'b2')}
      {legendLine(93, 762, COL.magenta, 3.5, 'b3')}
      <LegText x={127} y={766}>Prediction</LegText>

      {/* ---------- C ---------- */}
      <Headers xb={xc} y={827} />
      <Cells id="c" xb={xc} yb={yc} rows={C_ROWS} series={cSeries} />
      <VText x={91} y={875} size={18}>
        <tspan fontStyle="italic">HSP12</tspan><tspan> in </tspan><tspan fontStyle="italic">arp8Δ</tspan>
      </VText>
      <rect x={predX - 63} y={yc(C_ROWS[0])! + 6} width={126} height={22} fill="#fff" />
      <Heavy x={predX} y={yc(C_ROWS[0])! + 24} size={19}>PREDICTION</Heavy>
      <VText x={60} y={913} size={19}>{Y_TITLE}</VText>
      <Ticks xb={xc} y={920} />
      <text x={104} y={942} fontFamily={MYR} fontSize={19} fill="#111">No. of mRNA</text>
      {legendLine(93, 976, COL.black, 1.6, 'c1')}
      {legendLine(93, 980, COL.blue, 1.6, 'c2')}
      <LegText x={127} y={987} len={412} size={19.5}>Experimental mRNA distributions at 0.4M NaCl</LegText>
      <LegText x={127} y={1012}>
        <tspan>in </tspan><tspan fontStyle="italic">arp8Δ</tspan><tspan> strain</tspan>
      </LegText>
      {legendLine(93, 1041, COL.magenta, 3.5, 'c3')}
      <LegText x={127} y={1046}>Prediction</LegText>
    </svg>
  );
}
